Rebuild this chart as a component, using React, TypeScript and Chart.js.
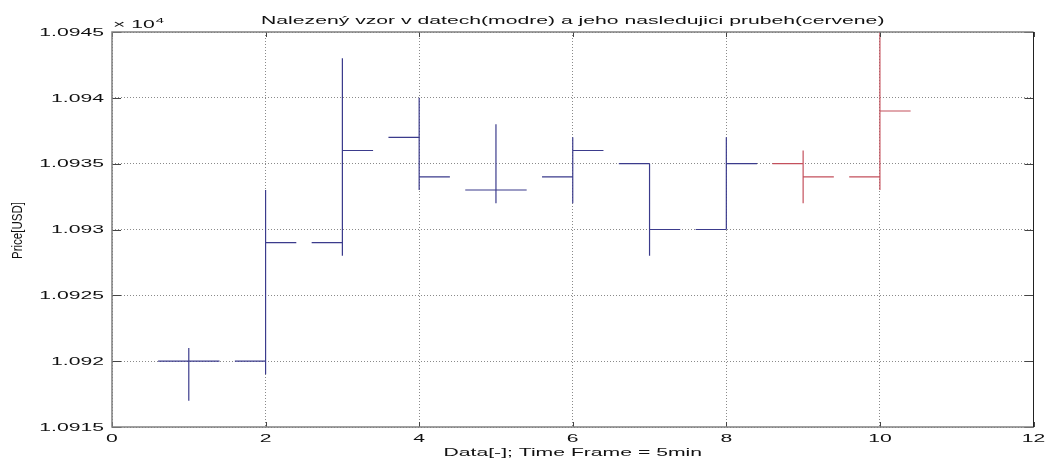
import React, { useEffect, useRef } from "react";
import { Chart, registerables } from "chart.js";

Chart.register(...registerables);

// ---- data (prices in units of 1e-4 USD, shown with a "x 10^4" multiplier) ----
const patternIdx = [1, 2, 3, 4, 5, 6, 7, 8];
const patternOpen = [10920, 10920, 10929, 10937, 10933, 10934, 10935, 10930];
const patternHigh = [10921, 10933, 10943, 10940, 10938, 10937, 10935, 10937];
const patternLow = [10917, 10919, 10928, 10933, 10932, 10932, 10928, 10930];
const patternClose = [10920, 10929, 10936, 10934, 10933, 10936, 10930, 10935];

const followIdx = [9, 10];
const followOpen = [10935, 10934];
const followHigh = [10936, 10945];
const followLow = [10932, 10933];
const followClose = [10934, 10939];

const xTickValues = [0, 2, 4, 6, 8, 10, 12];
const yTickValues = [10915, 10920, 10925, 10930, 10935, 10940, 10945];

const TITLE = "Nalezený vzor v datech(modre) a jeho nasledujici prubeh(cervene)";
const X_TITLE = "Data[-]; Time Frame = 5min";
const Y_TITLE = "Price[USD]";

// ---- style ----
const TICK_HALF = 0.4;
const BLUE = "#3b3b8c";
const RED = "#c4505c";
const FONT = '11.5px "Liberation Sans", Arial, Helvetica, sans-serif';
const YTITLE_FONT = '11.5px "Liberation Sans", Arial, Helvetica, sans-serif';
const SUP_FONT = '8px "Liberation Sans", Arial, Helvetica, sans-serif';
const SX = 1.84;
const SX_YTITLE = 1.35;

function ohlcPoints(idx: number[], o: number[], h: number[], l: number[], c: number[]) {
  const pts: { x: number; y: number | null }[] = [];
  idx.forEach((x, i) => {
    pts.push({ x, y: l[i] }, { x, y: h[i] }, { x, y: null });
    pts.push({ x: x - TICK_HALF, y: o[i] }, { x, y: o[i] }, { x, y: null });
    pts.push({ x, y: c[i] }, { x: x + TICK_HALF, y: c[i] }, { x: x + TICK_HALF, y: null });
  });
  return pts;
}

function fmtY(v: number) {
  return Number((v / 10000).toFixed(4)).toString();
}

function stretchedText(ctx: CanvasRenderingContext2D, text: string, x: number, y: number, align: CanvasTextAlign, font: string, baseline: CanvasTextBaseline = "alphabetic") {
  ctx.save();
  ctx.font = font;
  ctx.translate(x, y);
  ctx.scale(SX, 1);
  ctx.textAlign = align;
  ctx.textBaseline = baseline;
  ctx.fillText(text, 0, 0);
  ctx.restore();
}

const matlabPlugin = {
  id: "matlabLook",
  afterDraw(chart: any) {
    const { ctx, chartArea: a, scales } = chart;
    const xs = scales.x;
    const ys = scales.y;

    // rotated y title
    ctx.save();
    ctx.font = YTITLE_FONT;
    ctx.fillStyle = "#111";
    ctx.translate(18, (a.top + a.bottom) / 2 + 1);
    ctx.scale(SX_YTITLE, 1);
    ctx.rotate(-Math.PI / 2);
    ctx.textAlign = "center";
    ctx.textBaseline = "middle";
    ctx.fillText(Y_TITLE, 0, 0);
    ctx.restore();

    ctx.save();
    // tick marks
    ctx.strokeStyle = "#444";
    ctx.lineWidth = 1;
    ctx.setLineDash([]);
    ctx.beginPath();
    xs.ticks.forEach((t: any) => {
      const px = Math.round(xs.getPixelForValue(t.value)) + 0.5;
      ctx.moveTo(px, a.bottom);
      ctx.lineTo(px, a.bottom - 5);
      ctx.moveTo(px, a.top);
      ctx.lineTo(px, a.top + 5);
    });
    ys.ticks.forEach((t: any) => {
      const py = Math.round(ys.getPixelForValue(t.value)) + 0.5;
      ctx.moveTo(a.left, py);
      ctx.lineTo(a.left + 9, py);
      ctx.moveTo(a.right, py);
      ctx.lineTo(a.right - 9, py);
    });
    ctx.stroke();

    // box
    ctx.strokeStyle = "#808080";
    ctx.lineWidth = 1.5;
    ctx.beginPath();
    ctx.moveTo(a.right, a.top);
    ctx.lineTo(a.left, a.top);
    ctx.lineTo(a.left, a.bottom);
    ctx.lineTo(a.right, a.bottom);
    ctx.stroke();
    ctx.strokeStyle = "#222";
    ctx.lineWidth = 1;
    ctx.beginPath();
    ctx.moveTo(a.right, a.top);
    ctx.lineTo(a.right, a.bottom);
    ctx.stroke();

    // texts
    ctx.fillStyle = "#111";
    const cx = (a.left + a.right) / 2;
    stretchedText(ctx, TITLE, cx, 23.5, "center", FONT);
    stretchedText(ctx, X_TITLE, cx, 456, "center", FONT);
    xs.ticks.forEach((t: any) => {
      stretchedText(ctx, String(t.value), xs.getPixelForValue(t.value), 442, "center", FONT);
    });
    ys.ticks.forEach((t: any) => {
      stretchedText(ctx, fmtY(t.value), 104, ys.getPixelForValue(t.value) + 0.5, "right", FONT, "middle");
    });
    // multiplier
    stretchedText(ctx, "× 10", a.left + 1, 28, "left", FONT);
    ctx.font = FONT;
    const w = ctx.measureText("× 10").width * SX;
    stretchedText(ctx, "4", a.left + 1 + w + 1, 23, "left", SUP_FONT);

    ctx.restore();
  },
};

export default function App() {
  const ref = useRef<HTMLCanvasElement | null>(null);

  useEffect(() => {
    if (!ref.current) return;
    const grid = {
      color: "#8a8a8a",
      lineWidth: 1,
      drawTicks: false,
    };
    const chart = new Chart(ref.current, {
      type: "line",
      data: {
        datasets: [
          {
            label: "pattern",
            data: ohlcPoints(patternIdx, patternOpen, patternHigh, patternLow, patternClose) as any,
            borderColor: BLUE,
            borderWidth: 1.2,
            pointRadius: 0,
            spanGaps: false,
            tension: 0,
          },
          {
            label: "following",
            data: ohlcPoints(followIdx, followOpen, followHigh, followLow, followClose) as any,
            borderColor: RED,
            borderWidth: 1.2,
            pointRadius: 0,
            spanGaps: false,
            tension: 0,
          },
        ],
      },
      options: {
        animation: false,
        responsive: false,
        devicePixelRatio: 1,
        layout: { padding: { left: 112, top: 32, right: 20.5, bottom: 34 } },
        plugins: { legend: { display: false }, tooltip: { enabled: false }, title: { display: false } },
        scales: {
          x: {
            type: "linear",
            min: 0,
            max: 12,
            afterBuildTicks: (s: any) => {
              s.ticks = xTickValues.map((v) => ({ value: v }));
            },
            ticks: { display: false },
            grid: grid as any,
            border: { display: false, dash: [1, 2] } as any,
          },
          y: {
            type: "linear",
            min: 10915,
            max: 10945,
            afterBuildTicks: (s: any) => {
              s.ticks = yTickValues.map((v) => ({ value: v }));
            },
            ticks: { display: false },
            grid: grid as any,
            border: { display: false, dash: [1, 2] } as any,
          },
        },
      },
      plugins: [matlabPlugin],
    });
    return () => chart.destroy();
  }, []);

  return (
    <div style={{ position: "absolute", left: 0, top: 0, width: 1054, height: 461, background: "#fff" }}>
      <canvas ref={ref} width={1054} height={461} style={{ display: "block" }} />
    </div>
  );
}
